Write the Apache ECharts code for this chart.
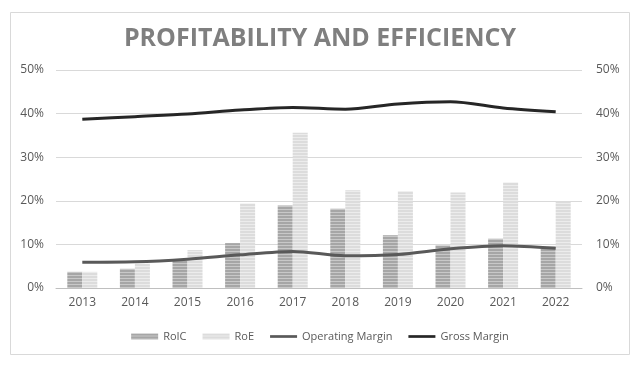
<!DOCTYPE html>
<html>
<head>
<meta charset="utf-8">
<script src="https://cdn.jsdelivr.net/npm/echarts@6/dist/echarts.min.js"></script>
<style>
  html, body { margin: 0; padding: 0; background: #fff; }
  #chart { width: 640px; height: 369px; }
</style>
</head>
<body>
<div id="chart"></div>
<script>
// values, in %
var years = ["2013", "2014", "2015", "2016", "2017", "2018", "2019", "2020", "2021", "2022"];
var roic = [3.7, 4.4, 6.3, 10.3, 18.9, 18.2, 12.1, 9.8, 11.3, 9.5];
var roe = [3.7, 5.6, 8.7, 19.4, 35.6, 22.4, 22.2, 21.9, 24.2, 19.9];
var opMargin = [5.9, 6.0, 6.6, 7.6, 8.4, 7.4, 7.7, 9.0, 9.7, 9.1];
var grossMargin = [38.7, 39.3, 39.9, 40.8, 41.4, 41.0, 42.2, 42.7, 41.3, 40.4];

// striped fill like the original bars
function stripes(dark, light) {
  var c = document.createElement("canvas");
  c.width = 4;
  c.height = 3;
  var ctx = c.getContext("2d");
  ctx.fillStyle = light;
  ctx.fillRect(0, 0, 4, 3);
  ctx.fillStyle = dark;
  ctx.fillRect(0, 0, 4, 2);
  return { image: c, repeat: "repeat" };
}

var chart = echarts.init(document.getElementById("chart"));
var font = "'Open Sans', 'Liberation Sans', sans-serif";
var labelStyle = { color: "#595959", fontSize: 12, fontFamily: font };

var option = {
  animation: false,
  backgroundColor: "#fff",
  graphic: [{
    type: "rect",
    shape: { x: 10.5, y: 12.5, width: 619, height: 342 },
    style: { fill: "none", stroke: "#d9d9d9", lineWidth: 1 }
  }],
  title: {
    text: "PROFITABILITY AND EFFICIENCY",
    left: "center",
    top: 21,
    textStyle: { color: "#7f7f7f", fontSize: 25, fontWeight: "bold", fontFamily: font }
  },
  legend: {
    top: 326,
    left: "center",
    itemWidth: 27,
    itemHeight: 6,
    itemGap: 16,
    textStyle: { color: "#595959", fontSize: 11, fontFamily: font },
    data: [
      { name: "RoIC", icon: "rect" },
      { name: "RoE", icon: "rect" },
      { name: "Operating Margin", icon: "path://M0,0 L30,0 L30,3 L0,3 Z" },
      { name: "Gross Margin", icon: "path://M0,0 L30,0 L30,3 L0,3 Z" }
    ]
  },
  grid: { left: 56, right: 58, top: 70, bottom: 81 },
  xAxis: {
    type: "category",
    data: years,
    axisLine: { lineStyle: { color: "#bfbfbf", width: 1 } },
    axisTick: { show: false },
    axisLabel: Object.assign({ margin: 9 }, labelStyle)
  },
  yAxis: [
    {
      type: "value",
      min: 0, max: 50, interval: 10,
      axisLabel: Object.assign({ formatter: "{value}%", margin: 12 }, labelStyle),
      splitLine: { lineStyle: { color: "#d9d9d9" } }
    },
    {
      type: "value",
      min: 0, max: 50, interval: 10,
      position: "right",
      axisLabel: Object.assign({ formatter: "{value}%", margin: 14 }, labelStyle),
      splitLine: { show: false }
    }
  ],
  series: [
    {
      name: "RoIC",
      type: "bar",
      data: roic,
      barGap: "0%",
      barCategoryGap: "43%",
      itemStyle: { color: stripes("#a6a6a6", "#c8c8c8") }
    },
    {
      name: "RoE",
      type: "bar",
      data: roe,
      itemStyle: { color: stripes("#dcdcdc", "#ececec") }
    },
    {
      name: "Operating Margin",
      type: "line",
      data: opMargin,
      smooth: 0.3,
      symbol: "none",
      lineStyle: { color: "#595959", width: 3 },
      itemStyle: { color: "#595959" }
    },
    {
      name: "Gross Margin",
      type: "line",
      data: grossMargin,
      smooth: 0.3,
      symbol: "none",
      lineStyle: { color: "#262626", width: 3 },
      itemStyle: { color: "#262626" }
    }
  ]
};

chart.setOption(option);
</script>
</body>
</html>
